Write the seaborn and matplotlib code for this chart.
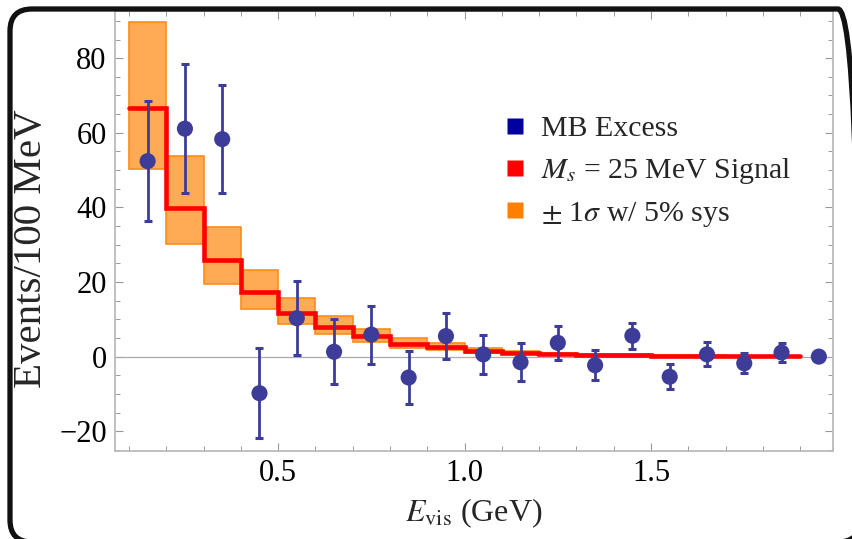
import numpy as np
import pandas as pd
import seaborn as sns
import matplotlib
matplotlib.use("Agg")
import matplotlib.pyplot as plt
from matplotlib.lines import Line2D
from matplotlib.patches import FancyBboxPatch

# MiniBooNE-style excess vs. signal prediction, 100 MeV bins
bin_edges = [0.1, 0.2, 0.3, 0.4, 0.5, 0.6, 0.7, 0.8, 0.9, 1.0,
             1.1, 1.2, 1.3, 1.4, 1.5, 1.6, 1.7, 1.8, 1.9]
signal = [66.7, 39.9, 26.0, 17.4, 11.8, 7.9, 5.4, 3.4, 2.5,
          1.6, 1.1, 0.7, 0.5, 0.4, 0.3, 0.25, 0.2, 0.1]
band_upper = [89.7, 53.8, 34.8, 23.3, 15.7, 10.8, 7.4, 5.0, 3.6,
              2.4, 1.6, 1.1, 0.8, 0.6, 0.45, 0.35, 0.3, 0.15]
band_lower = [50.4, 30.1, 19.5, 12.8, 8.8, 6.1, 3.8, 2.3, 1.7,
              1.0, 0.7, 0.4, 0.3, 0.2, 0.15, 0.1, 0.1, 0.05]

excess_x = [0.15, 0.25, 0.35, 0.45, 0.55, 0.65, 0.75, 0.85, 0.95, 1.05,
            1.15, 1.25, 1.35, 1.45, 1.55, 1.65, 1.75, 1.85, 1.95]
excess_y = [52.4, 61.1, 58.3, -9.8, 10.3, 1.3, 5.9, -5.6, 5.5, 0.6,
            -1.5, 3.7, -2.3, 5.6, -5.4, 0.6, -1.8, 1.1, 0.0]
excess_err = [16.1, 17.3, 14.5, 12.0, 9.9, 8.75, 7.75, 7.05, 6.25, 5.3,
              5.1, 4.55, 4.1, 3.5, 3.35, 3.2, 2.7, 2.65, 0.0]

legend_labels = ["MB Excess", r"$M_s$ = 25 MeV Signal", r"$\pm$ 1$\sigma$ w/ 5% sys"]

sns.set_style("white")
plt.rcParams["font.family"] = ["Liberation Serif", "DejaVu Serif"]
plt.rcParams["mathtext.fontset"] = "stix"

W, H = 853, 539
fig = plt.figure(figsize=(W / 100, H / 100), dpi=100)
ax = fig.add_axes([115 / W, (H - 451) / H, (833 - 115) / W, (451 - 11) / H])

point_color = "#3D3D99"
band_fill = "#FFAA55"
band_edge = "#FF8C1A"
grey = "#BBBBBB"

# +/- 1 sigma band as per-bin boxes
left = np.array(bin_edges[:-1])
lo = np.array(band_lower)
hi = np.array(band_upper)
ax.bar(left, hi - lo, width=0.1, bottom=lo, align="edge",
       color=band_fill, edgecolor=band_edge, linewidth=1.2, zorder=2)

# signal prediction as a step histogram
step_df = pd.DataFrame({"E": bin_edges, "N": signal + [signal[-1]]})
sns.lineplot(data=step_df, x="E", y="N", drawstyle="steps-post",
             color="#FF0000", linewidth=3.3, ax=ax, zorder=3,
             solid_joinstyle="miter")

# measured excess with statistical errors
ax.errorbar(excess_x, excess_y, yerr=excess_err, fmt="none",
            ecolor=point_color, elinewidth=2.0, capsize=2.6, capthick=2.2, zorder=4)
pts = pd.DataFrame({"E": excess_x, "N": excess_y})
sns.scatterplot(data=pts, x="E", y="N", color=point_color, s=135,
                edgecolor="none", ax=ax, zorder=5)

ax.axhline(0, color="#AAAAAA", linewidth=0.9, zorder=1)

ax.set_xlim(0.0625, 1.988)
ax.set_ylim(-25.3, 92.65)
ax.set_xticks([0.5, 1.0, 1.5])
ax.set_xticklabels(["0.5", "1.0", "1.5"])
ax.set_xticks(np.arange(0.1, 1.95, 0.1), minor=True)
ax.set_yticks([-20, 0, 20, 40, 60, 80])
ax.set_yticklabels(["\u221220", "0", "20", "40", "60", "80"])
ax.set_yticks(np.arange(-25, 91, 5), minor=True)

for s in ax.spines.values():
    s.set_color(grey)
    s.set_linewidth(1.3)
ax.tick_params(which="both", direction="in", color="#999999",
               top=True, right=True, bottom=True, left=True,
               labelsize=22, labelcolor="black", pad=6)
ax.tick_params(which="major", length=6, width=0.8)
ax.tick_params(which="minor", length=3.5, width=0.7)

ax.set_xlabel(r"$E_{\mathrm{vis}}$ (GeV)", fontsize=23, labelpad=6)
ax.set_ylabel("Events/100 MeV", fontsize=29.5)
ax.yaxis.set_label_coords(-0.091, 0.46)

handles = [Line2D([], [], linestyle="none", marker="s", markersize=12,
                  markerfacecolor=c, markeredgecolor="none")
           for c in ["#0000A0", "#FF0000", "#FF8000"]]
ax.legend(handles, legend_labels, loc="upper left", bbox_to_anchor=(0.525, 0.79),
          frameon=False, fontsize=21.5, handlelength=0.75, handletextpad=0.5,
          labelspacing=0.46, borderaxespad=0)

# rounded black frame around the whole figure (pixel units, origin bottom-left)
ov = fig.add_axes([0, 0, 1, 1], zorder=10)
ov.set_xlim(0, W)
ov.set_ylim(0, H)
ov.axis("off")
ov.patch.set_alpha(0)
ov.add_patch(FancyBboxPatch((10, H - 542), 850, 533,
                            boxstyle="round,pad=0,rounding_size=22",
                            fill=False, edgecolor="#111111", linewidth=3.8,
                            clip_on=False))

fig.savefig("out.png", dpi=100)
